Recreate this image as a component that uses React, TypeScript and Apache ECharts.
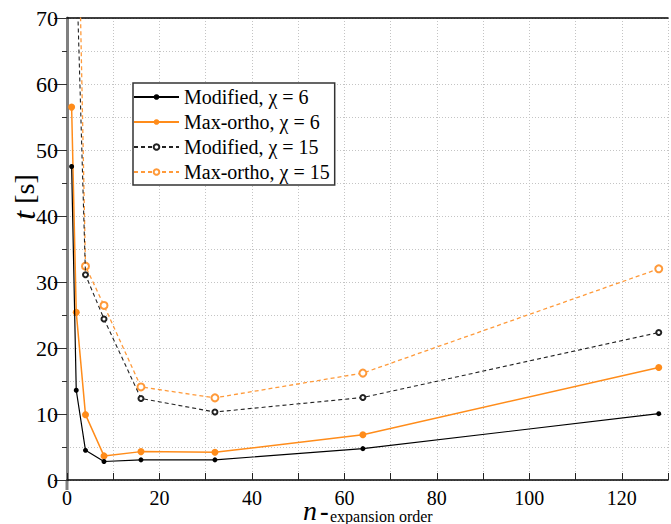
import React, { useEffect, useRef } from "react";
import * as echarts from "echarts";

const nSolid = [1, 2, 4, 8, 16, 32, 64, 128];
const modified6 = [47.5, 13.6, 4.5, 2.8, 3.05, 3.05, 4.75, 10.05];
const maxOrtho6 = [56.5, 25.4, 9.9, 3.65, 4.3, 4.2, 6.85, 17.05];
const nDashed = [2, 4, 8, 16, 32, 64, 128];
const modified15 = [79, 31.1, 24.4, 12.35, 10.3, 12.5, 22.35];
const maxOrtho15 = [103, 32.4, 26.45, 14.1, 12.45, 16.2, 32.0];
const seriesNames = [
  "Modified, χ = 6",
  "Max-ortho, χ = 6",
  "Modified, χ = 15",
  "Max-ortho, χ = 15",
];

const FONT = "'Liberation Serif', 'Times New Roman', Times, 'DejaVu Serif', serif";
const ORANGE = "#ff8c1a";
const ORANGE_D = "#ff9a3a";

const pairs = (xs: number[], ys: number[]) => xs.map((x, i) => [x, ys[i]]);

export default function App() {
  const ref = useRef<HTMLDivElement>(null);
  useEffect(() => {
    if (!ref.current) return;
    const chart = echarts.init(ref.current, undefined, { renderer: "svg" });
    const dotted = { color: "#c4c4c4", type: [1, 2] as any, width: 1 };
    chart.setOption({
      animation: false,
      textStyle: { fontFamily: FONT },
      grid: { left: 67, right: 1, top: 18, bottom: 44 },
      legend: {
        left: 133,
        top: 83,
        orient: "vertical",
        itemWidth: 45,
        itemHeight: 7,
        itemGap: 5,
        padding: [4, 5, 3, 0],
        backgroundColor: "#fff",
        borderColor: "#333",
        borderWidth: 1.5,
        borderRadius: 0,
        textStyle: { fontFamily: FONT, fontSize: 20, color: "#000" },
        data: seriesNames,
      },
      xAxis: [
        {
          type: "value",
          min: 0,
          max: 130,
          interval: 10,
          axisLine: { show: true, lineStyle: { color: "#000", width: 1.5 } },
          axisTick: { show: true, inside: true, length: 7, lineStyle: { color: "#222" } },
          axisLabel: {
            fontFamily: FONT,
            fontSize: 20,
            lineHeight: 16,
            color: "#000",
            margin: 10,
            formatter: (v: number) => (v % 20 === 0 && v <= 120 ? String(v) : ""),
          },
          splitLine: { show: true, lineStyle: dotted },
        },
        {
          type: "value",
          position: "top",
          min: 0,
          max: 130,
          interval: 10,
          axisLine: { show: true, lineStyle: { color: "#000", width: 1.5 } },
          axisTick: { show: false },
          axisLabel: { show: false },
          splitLine: { show: false },
        },
      ],
      yAxis: {
        type: "value",
        min: 0,
        max: 70,
        interval: 10,
        axisLine: { show: true, lineStyle: { color: "#808080", width: 3 } },
        axisTick: { show: true, length: 13, lineStyle: { color: "#333" } },
        minorTick: { show: true, splitNumber: 2, length: 5, lineStyle: { color: "#333" } },
        axisLabel: { fontFamily: FONT, fontSize: 22, color: "#000", margin: 9 },
        splitLine: { show: true, lineStyle: dotted },
        minorSplitLine: { show: true, lineStyle: dotted },
      },
      series: [
        {
          name: seriesNames[0],
          type: "line",
          data: pairs(nSolid, modified6),
          symbol: "circle",
          symbolSize: 5,
          color: "#000",
          lineStyle: { color: "#000", width: 1.2 },
          itemStyle: { color: "#000" },
          z: 4,
        },
        {
          name: seriesNames[1],
          type: "line",
          data: pairs(nSolid, maxOrtho6),
          symbol: "circle",
          symbolSize: 7,
          color: ORANGE,
          lineStyle: { color: ORANGE, width: 1.5 },
          itemStyle: { color: ORANGE },
          z: 3,
        },
        {
          name: seriesNames[2],
          type: "line",
          data: pairs(nDashed, modified15),
          symbol: "emptyCircle",
          symbolSize: 5,
          color: "#222",
          lineStyle: { color: "#222", width: 1.1, type: [4, 3] },
          itemStyle: { color: "#222", borderWidth: 1.2 },
          z: 2,
        },
        {
          name: seriesNames[3],
          type: "line",
          data: pairs(nDashed, maxOrtho15),
          symbol: "emptyCircle",
          symbolSize: 7,
          color: ORANGE_D,
          lineStyle: { color: ORANGE_D, width: 1.3, type: [4, 3] },
          itemStyle: { color: ORANGE_D, borderWidth: 1.5 },
          z: 1,
        },
      ],
      graphic: [
        {
          type: "text",
          x: 24,
          y: 197,
          rotation: Math.PI / 2,
          style: {
            text: "{i|t} [s]",
            fontFamily: FONT,
            fontSize: 28,
            fill: "#000",
            align: "center",
            verticalAlign: "middle",
            rich: { i: { fontStyle: "italic", fontFamily: FONT, fontSize: 32 } },
          },
        },
        {
          type: "text",
          x: 303,
          y: 510,
          style: {
            text: "n",
            fontFamily: FONT,
            fontStyle: "italic",
            fontSize: 28,
            fill: "#000",
            align: "left",
            verticalAlign: "middle",
          },
        },
        {
          type: "text",
          x: 320,
          y: 511,
          style: {
            text: "-",
            fontFamily: FONT,
            fontWeight: "bold",
            fontSize: 26,
            fill: "#000",
            align: "left",
            verticalAlign: "middle",
          },
        },
        {
          type: "text",
          x: 330,
          y: 516,
          style: {
            text: "expansion order",
            fontFamily: FONT,
            fontSize: 16,
            fill: "#000",
            align: "left",
            verticalAlign: "middle",
          },
        },
        {
          type: "line",
          shape: { x1: 67, y1: 480, x2: 67, y2: 490 },
          style: { stroke: "#808080", lineWidth: 3 },
        },
      ],
    });
    return () => chart.dispose();
  }, []);
  return <div ref={ref} style={{ width: 671, height: 524, position: "absolute", left: 0, top: 0 }} />;
}
